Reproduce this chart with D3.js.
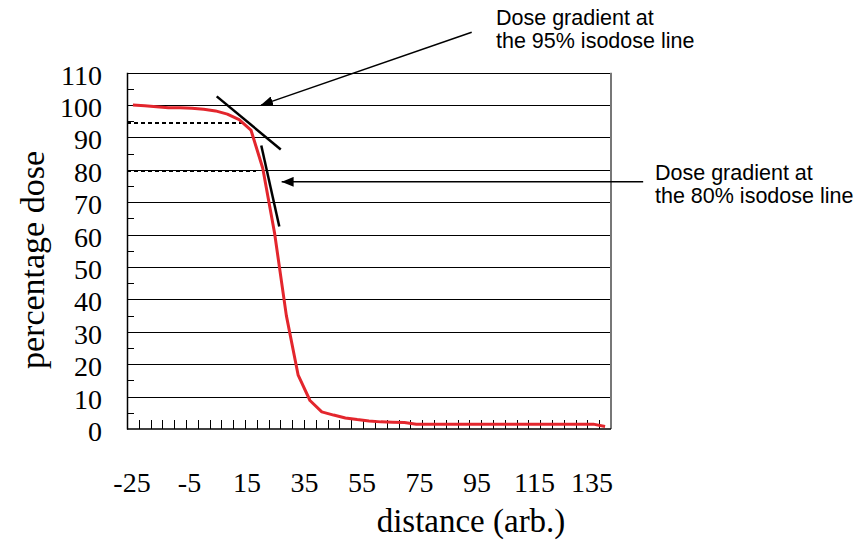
<!DOCTYPE html>
<html>
<head>
<meta charset="utf-8">
<script src="https://cdn.jsdelivr.net/npm/d3@7"></script>
<style>
  html, body { margin: 0; padding: 0; background: #fff; }
  svg { display: block; }
</style>
</head>
<body>
<svg id="chart" width="865" height="553"></svg>
<script>
// ---------- data ----------
const distances = [-25,-21,-17,-13,-9,-5,-1,3,7,11,15,19,23,27,31,35,39,43,47,51,55,59,63,67,71,75,79,83,87,91,95,99,103,107,111,115,119,123,127,131,135];
const doseValues = [100,99.8,99.5,99.2,99.2,99.0,98.7,98.2,97.2,95.5,92.3,80.5,60.5,35.0,16.6,8.8,5.3,4.3,3.4,2.9,2.5,2.2,2.1,2.0,1.5,1.5,1.5,1.5,1.5,1.5,1.5,1.5,1.5,1.5,1.5,1.5,1.5,1.5,1.5,1.5,0.8];
const yTickValues = [0,10,20,30,40,50,60,70,80,90,100,110];
const yMinorTicks = [5,15,25,35,45,55,65,75,85,95,105];
const xTickLabels = [-25,-5,15,35,55,75,95,115,135];
// category boundaries (tick marks between categories)
const xTickMarks = [-23,-19,-15,-11,-7,-3,1,5,9,13,17,21,25,29,33,37,41,45,49,53,57,61,65,69,73,77,81,85,89,93,97,101,105,109,113,117,121,125,129,133];
// isodose reference levels (dashed) : [level, end distance]
const isoLevels = [[94.5, 12.4], [79.7, 16.7]];
// tangent lines : [[x1,y1],[x2,y2]]
const tangents = [[[3.4,102.7],[25.1,86.3]], [[18.5,87.5],[24.6,62.5]]];
// arrows : tail -> tip in data coords
const arrows = [[[89.8,122.5],[18.4,100.0]], [[147.9,76.3],[25.4,76.3]]];
const notes = [
  {lines:["Dose gradient at","the 95% isodose line"], x:496, y:25},
  {lines:["Dose gradient at","the 80% isodose line"], x:655, y:180}
];

// ---------- layout ----------
const L = 127, R = 611, T = 72.7, B = 429;
const svg = d3.select("#chart");
const x = d3.scaleLinear().domain([-27, 137]).range([L, R]);
const y = d3.scaleLinear().domain([0, 110]).range([B, T]);
const xLab = d3.scaleLinear().domain([-25, 135]).range([132, 592]);

const serif = "'Liberation Serif','Times New Roman',Times,serif";
const sans = "'Liberation Sans',Arial,Helvetica,sans-serif";

// gridlines
svg.append("g").selectAll("line").data(yTickValues.filter(v => v > 0 && v < 110)).join("line")
  .attr("x1", L).attr("x2", R)
  .attr("y1", d => Math.round(y(d)) + 0.5).attr("y2", d => Math.round(y(d)) + 0.5)
  .attr("stroke", "#000").attr("stroke-width", 1);

// minor left ticks
svg.append("g").selectAll("line").data(yMinorTicks).join("line")
  .attr("x1", L).attr("x2", L + 7)
  .attr("y1", d => Math.round(y(d)) + 0.5).attr("y2", d => Math.round(y(d)) + 0.5)
  .attr("stroke", "#000").attr("stroke-width", 1);

// bottom ticks (inward)
svg.append("g").selectAll("line").data(xTickMarks).join("line")
  .attr("x1", d => Math.round(x(d)) + 0.5).attr("x2", d => Math.round(x(d)) + 0.5)
  .attr("y1", B).attr("y2", B - 9)
  .attr("stroke", "#000").attr("stroke-width", 1);

// plot frame
svg.append("line").attr("x1", L).attr("x2", R).attr("y1", Math.round(T) + 0.5).attr("y2", Math.round(T) + 0.5).attr("stroke", "#000");
svg.append("line").attr("x1", R).attr("x2", R).attr("y1", T).attr("y2", B).attr("stroke", "#777").attr("stroke-width", 2);
svg.append("line").attr("x1", L + 0.5).attr("x2", L + 0.5).attr("y1", T).attr("y2", B + 0.5).attr("stroke", "#000").attr("stroke-width", 1.5);
svg.append("line").attr("x1", L).attr("x2", R).attr("y1", B).attr("y2", B).attr("stroke", "#000").attr("stroke-width", 1.5);

// dashed isodose lines
svg.append("g").selectAll("line").data(isoLevels).join("line")
  .attr("x1", L).attr("x2", d => x(d[1]))
  .attr("y1", d => Math.round(y(d[0]))).attr("y2", d => Math.round(y(d[0])))
  .attr("stroke", "#000").attr("stroke-width", 2).attr("stroke-dasharray", "4,3");

// dose curve
const line = d3.line().x((d, i) => x(distances[i])).y(d => y(d));
svg.append("path").datum(doseValues).attr("d", line)
  .attr("fill", "none").attr("stroke", "#e3262d").attr("stroke-width", 3).attr("stroke-linejoin", "round");

// tangent lines
svg.append("g").selectAll("line").data(tangents).join("line")
  .attr("x1", d => x(d[0][0])).attr("y1", d => y(d[0][1]))
  .attr("x2", d => x(d[1][0])).attr("y2", d => y(d[1][1]))
  .attr("stroke", "#000").attr("stroke-width", 2.5);

// arrows
svg.append("defs").append("marker").attr("id", "ah")
  .attr("viewBox", "0 0 12 10").attr("refX", 12).attr("refY", 5)
  .attr("markerWidth", 12).attr("markerHeight", 10).attr("markerUnits", "userSpaceOnUse")
  .attr("orient", "auto")
  .append("path").attr("d", "M0,0 L12,5 L0,10 Z").attr("fill", "#000");
svg.append("g").selectAll("line").data(arrows).join("line")
  .attr("x1", d => x(d[0][0])).attr("y1", d => y(d[0][1]))
  .attr("x2", d => x(d[1][0])).attr("y2", d => y(d[1][1]))
  .attr("stroke", "#000").attr("stroke-width", 1.5).attr("marker-end", "url(#ah)");

// y tick labels
svg.append("g").selectAll("text").data(yTickValues).join("text")
  .attr("x", 102).attr("y", d => y(d) + 12)
  .attr("text-anchor", "end").attr("font-family", serif).attr("font-size", 28)
  .text(d => d);

// x tick labels
svg.append("g").selectAll("text").data(xTickLabels).join("text")
  .attr("x", d => xLab(d)).attr("y", 492)
  .attr("text-anchor", "middle").attr("font-family", serif).attr("font-size", 28)
  .text(d => d);

// axis titles
svg.append("text").attr("x", 471).attr("y", 532).attr("text-anchor", "middle")
  .attr("font-family", serif).attr("font-size", 33).text("distance (arb.)");
svg.append("text").attr("transform", "translate(44,260) rotate(-90)").attr("text-anchor", "middle")
  .attr("font-family", serif).attr("font-size", 34).text("percentage dose");

// annotations
notes.forEach(n => {
  const t = svg.append("text").attr("font-family", sans).attr("font-size", 21.5).attr("fill", "#000");
  n.lines.forEach((s, i) => t.append("tspan").attr("x", n.x).attr("y", n.y + i * 23).text(s));
});
</script>
</body>
</html>
